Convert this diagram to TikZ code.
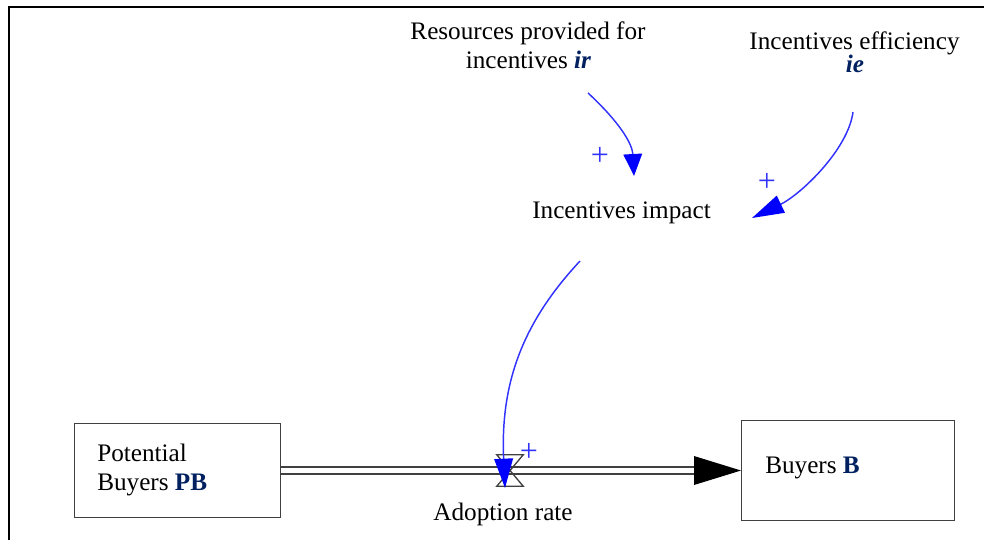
\documentclass[tikz,border=0pt]{standalone}
\usepackage{fontspec}
\setmainfont{Liberation Serif}
\usetikzlibrary{arrows.meta}
\definecolor{navy}{RGB}{0,32,96}
\definecolor{linkblue}{RGB}{50,50,255}
\definecolor{headblue}{RGB}{0,0,255}
\definecolor{boxgray}{RGB}{64,64,64}
\begin{document}
\begin{tikzpicture}[x=0.75pt,y=-0.75pt,
  lbl/.style={inner sep=0pt, font=\fontsize{18.9}{22}\selectfont},
  stockbox/.style={draw=boxgray, line width=1.1pt, inner sep=0pt, anchor=north west},
  link/.style={draw=linkblue, line width=1.1pt},
  pm/.style={text=linkblue, font=\fontsize{24}{24}\selectfont, inner sep=0pt},
  varname/.style={text=navy, font=\bfseries\itshape},
  stockname/.style={text=navy, font=\bfseries}]
\useasboundingbox (0,0) rectangle (984,540);
% frame
\draw[line width=2pt] (9,540) -- (9,7) -- (984,7);

% auxiliary variables
\node[lbl, anchor=base] (ir1) at (528,39) {Resources provided for};
\node[lbl, anchor=base] (ir2) at (528.5,68) {incentives \textcolor{navy}{\textbf{\textit{ir}}}};
\node[lbl, anchor=base] (ie1) at (854.5,49) {Incentives efficiency};
\node[lbl, anchor=base] (ie2) at (855,72) {\textcolor{navy}{\textbf{\textit{ie}}}};
\node[lbl, anchor=base] (ii) at (621.5,218) {Incentives impact};

% stocks
\node[stockbox, minimum width=154.5pt, minimum height=70.5pt] (PB) at (74,423) {};
\node[lbl, anchor=base west] (pbt1) at (97,461) {Potential};
\node[lbl, anchor=base west] (pbt2) at (97,490) {Buyers \textcolor{navy}{\textbf{PB}}};
\node[stockbox, minimum width=159.75pt, minimum height=75pt] (B) at (741,420) {};
\node[lbl, anchor=base west] (bt) at (765,473) {Buyers \textcolor{navy}{\textbf{B}}};

% flow pipe
\coordinate (pipeY) at (0,470.5);
\coordinate (headtip) at (B.west |- pipeY);
\coordinate (headbase) at (694,470.5);
\draw[line width=1.1pt, draw=boxgray, double=white, double distance=4.2pt]
  (PB.east |- pipeY) -- (headbase);
\fill[black] (headtip) -- (694,456) -- (694,485) -- cycle;

% valve
\node[inner sep=0pt, minimum width=19.5pt, minimum height=23.25pt] (valve) at (510,470.5) {};
\draw[boxgray, line width=1pt] (valve.north west) -- (valve.north east)
  -- (valve.south west) -- (valve.south east) -- cycle;
\node[lbl, anchor=base] (ar) at (503,520) {Adoption rate};

% links
\coordinate (l1s) at (588,93);
\coordinate (l1e) at (634,176);
\draw[link, -{Triangle[length=16.5pt,width=14pt,color=headblue]}]
  (l1s) .. controls (612,115) and (632,140) .. (l1e);
\coordinate (l2s) at (853,112);
\coordinate (l2e) at (752,218);
\draw[link, -{Triangle[length=24pt,width=14pt,color=headblue]}]
  (l2s) .. controls (848,150) and (800,195) .. (l2e);
\coordinate (l3s) at (580,261);
\coordinate (l3e) at (505,488);
\draw[link, -{Triangle[length=22pt,width=14pt,color=headblue]}]
  (l3s) .. controls (525,320) and (500,380) .. (l3e);

% polarities
\node[pm] (p1) at (600,156) {+};
\node[pm] (p2) at (767,182) {+};
\node[pm] (p3) at (529,452) {+};
\end{tikzpicture}
\end{document}
